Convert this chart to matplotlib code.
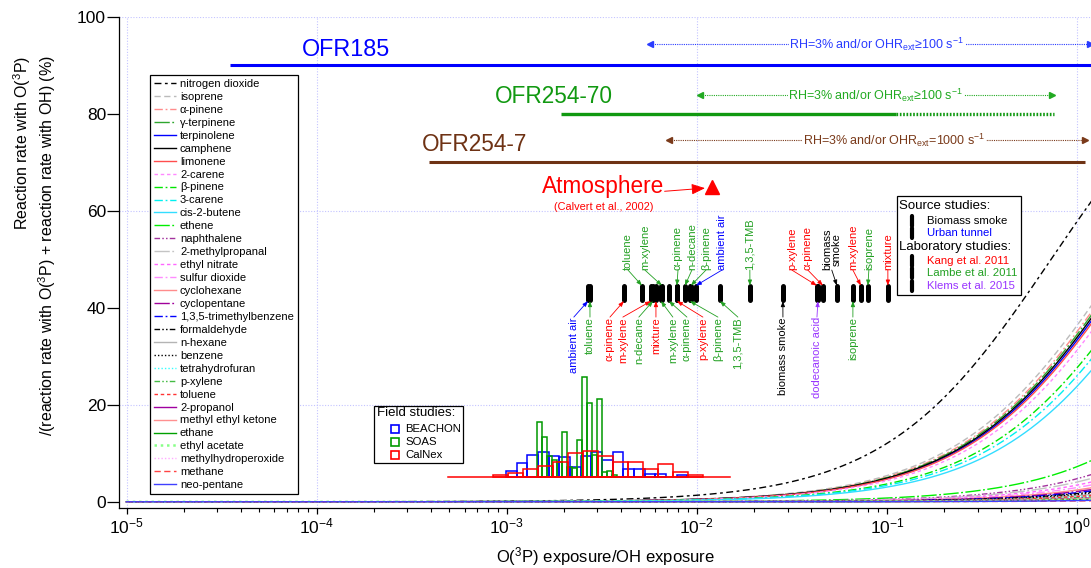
import numpy as np
import matplotlib
matplotlib.use('Agg')
import matplotlib.pyplot as plt
from matplotlib.lines import Line2D
from matplotlib.markers import MarkerStyle
from matplotlib.patches import Rectangle
from matplotlib.ticker import LogLocator, NullFormatter, NullLocator

W, H = 1091, 568

plt.rcParams['font.family'] = ['Liberation Sans', 'DejaVu Sans']
plt.rcParams['mathtext.fontset'] = 'custom'
plt.rcParams['mathtext.rm'] = 'Liberation Sans'
plt.rcParams['mathtext.it'] = 'Liberation Sans:italic'
plt.rcParams['mathtext.bf'] = 'Liberation Sans:bold'

# ---------------- data ----------------
species = ['nitrogen dioxide', 'isoprene', 'α-pinene', 'γ-terpinene', 'terpinolene',
           'camphene', 'limonene', '2-carene', 'β-pinene', '3-carene', 'cis-2-butene',
           'ethene', 'naphthalene', '2-methylpropanal', 'ethyl nitrate', 'sulfur dioxide',
           'cyclohexane', 'cyclopentane', '1,3,5-trimethylbenzene', 'formaldehyde',
           'n-hexane', 'benzene', 'tetrahydrofuran', 'p-xylene', 'toluene', '2-propanol',
           'methyl ethyl ketone', 'ethane', 'ethyl acetate', 'methylhydroperoxide',
           'methane', 'neo-pentane']
k_ratio = [0.73, 1.75, 1.85, 1.9, 2.0, 1.95, 2.05, 2.2, 2.62, 2.85, 3.2,
           12.8, 20, 23.5, 28, 33, 40, 46, 52, 58, 78, 65, 98, 117, 90, 147,
           168, 236, 197, 295, 590, 394]

# field study histograms: log10 of first bin edge, log10 bin width, bar heights (%)
beachon_start, beachon_step = -3.004, 0.0561
beachon_h = [1.2, 2.9, 4.5, 5.0, 4.3, 4.1, 1.9, 4.3, 5.0, 3.5, 5.0, 1.5, 1.5, 0.5, 0.6, 0.0, 0.3]
soas_start, soas_step = -2.843, 0.0263
soas_h = [11.3, 8.1, 4.3, 3.4, 3.0, 9.1, 1.9, 1.7, 7.6, 20.6, 15.2, 4.4, 16.0, 1.0, 1.2, 0.3]
calnex_start, calnex_step = -3.074, 0.0789
calnex_h = [0.3, 0.7, 1.5, 2.2, 3.1, 4.8, 5.2, 4.3, 3.1, 3.1, 1.5, 2.7, 1.0, 0.3]
hist_base = 5.2
calnex_span = [4.9e-4, 1.49e-2]

# oxidation flow reactor ranges
ofr_names = ['OFR185', 'OFR254-70', 'OFR254-7']
ofr_level = [90, 80, 70]
ofr_start = [3.5e-5, 1.93e-3, 3.9e-4]
ofr_end = [1.5, 0.755, 1.10]
ofr254_70_solid_end = 0.111
rh_start = [5.66e-3, 1.04e-2, 7.13e-3]
rh_end = [1.17, 0.738, 1.10]
rh_text = ['RH=3% and/or OHR$_{\\mathrm{ext}}$≥100 s$^{\\mathrm{-1}}$',
           'RH=3% and/or OHR$_{\\mathrm{ext}}$≥100 s$^{\\mathrm{-1}}$',
           'RH=3% and/or OHR$_{\\mathrm{ext}}$=1000 s$^{\\mathrm{-1}}$']

atm_ratio, atm_pct = 0.0120, 65

# source / laboratory study points (all at the same height)
tag_level = 43
up_ratio = [5.143e-3, 6.553e-3, 7.859e-3, 8.661e-3, 9.311e-3, 9.892e-3, 1.903e-2,
            4.282e-2, 4.605e-2, 5.458e-2, 7.297e-2, 7.943e-2, 0.1012]
up_label = ['toluene', 'm-xylene', 'α-pinene', 'n-decane', 'β-pinene', 'ambient air',
            '1,3,5-TMB', 'p-xylene', 'α-pinene', 'biomass\nsmoke', 'm-xylene', 'isoprene', 'mixture']
up_study = ['Lambe', 'Lambe', 'Lambe', 'Lambe', 'Lambe', 'Urban', 'Lambe',
            'Kang', 'Kang', 'Biomass', 'Kang', 'Lambe', 'Kang']
down_ratio = [2.674e-3, 2.740e-3, 4.135e-3, 5.738e-3, 5.878e-3, 6.094e-3, 6.474e-3,
              7.132e-3, 7.859e-3, 9.200e-3, 1.323e-2, 2.836e-2, 4.335e-2, 6.625e-2]
down_label = ['ambient air', 'toluene', 'α-pinene', 'm-xylene', 'n-decane', 'mixture', 'm-xylene',
              'α-pinene', 'p-xylene', 'β-pinene', '1,3,5-TMB', 'biomass smoke', 'dodecanoic acid', 'isoprene']
down_study = ['Urban', 'Lambe', 'Kang', 'Kang', 'Lambe', 'Kang', 'Lambe',
              'Lambe', 'Kang', 'Lambe', 'Lambe', 'Biomass', 'Klems', 'Lambe']

# ---------------- styles and layout ----------------
DASH = (0, (4.5, 2.5))
SDASH = (0, (2.5, 2))
DASHDOT = (0, (6, 2, 1.3, 2))
LDASHDOT = (0, (11, 1.8, 1.3, 1.8))
DASHDOTDOT = (0, (4, 1.6, 1.1, 1.6, 1.1, 1.6))
DOT = (0, (1, 1.5))
sp_colors = ['black', '#bbbbbb', '#ff8c8c', '#2ea62e', '#0000ff', 'black', '#ff4d4d', '#ff88ff',
             '#00e600', '#00f0f0', '#33ddff', '#00ee00', '#a3339e', '#c4c4c4', '#ff66ff', '#ff8cff',
             '#ff8c8c', '#a0009a', '#0000ff', 'black', '#b4b4b4', 'black', '#33ffff', '#44bb44',
             '#ff3333', '#a000a0', '#ff9090', '#00a000', '#88ff88', '#ffaaff', '#ff4444', '#4040ff']
sp_styles = [(0, (5, 2.5, 2, 2.5)), DASH, DASHDOT, LDASHDOT, '-', '-', '-', SDASH,
             DASHDOT, DASHDOT, '-', LDASHDOT, DASHDOTDOT, LDASHDOT, SDASH, DASHDOT,
             '-', LDASHDOT, DASHDOT, DASHDOTDOT, '-', DOT, DOT, DASHDOTDOT,
             SDASH, '-', '-', '-', DOT, DOT, DASH, '-']
study_color = {'Biomass': 'black', 'Urban': '#0000ff', 'Kang': '#ff0000',
               'Lambe': '#22a022', 'Klems': '#9933ff'}
ofr_color = ['#0000ff', '#119911', '#6e3214']
rh_color = ['#2a3cff', '#22aa22', '#7a3a1a']

# text positions (log10 of x)
up_text_x = [-2.362, -2.273, -2.099, -2.026, -1.952, -1.868, -1.721,
             -1.500, -1.416, -1.290, -1.179, -1.095, -0.995]
down_text_x = [-2.647, -2.562, -2.457, -2.389, -2.305, -2.215, -2.126,
               -2.052, -1.968, -1.889, -1.784, -1.547, -1.368, -1.179]


def fx(px):
    return px / W


def fy(py):
    return 1 - py / H


def draw_hist(ax, start, step, heights, color):
    edges = 10 ** (start + step * np.arange(len(heights) + 1))
    h = np.array(heights)
    keep = h > 0
    ax.bar(edges[:-1][keep], h[keep], width=np.diff(edges)[keep], bottom=hist_base,
           align='edge', fill=False, edgecolor=color, linewidth=1.1, zorder=3)


def draw_tags(ax, ratios, labels, studies, text_x, up):
    for r, lbl, st, tx in zip(ratios, labels, studies, text_x):
        col = study_color[st]
        if up:
            ty, yy, va, rel = 47.8, 44.6, 'bottom', (0.5, 0)
        else:
            ty, yy, va, rel = 38.1, 41.4, 'top', (0.5, 1)
        ax.annotate(lbl, xy=(r, yy), xytext=(10 ** tx, ty), rotation=90, ha='center', va=va,
                    color=col, fontsize=8, linespacing=1.0, zorder=6,
                    arrowprops=dict(arrowstyle='-|>,head_length=0.4,head_width=0.15', color=col,
                                    lw=0.6, shrinkA=0, shrinkB=0, relpos=rel, patchA=None))


def main():
    fig = plt.figure(figsize=(W / 100, H / 100), dpi=100)
    ax = fig.add_axes([fx(119.3), fy(508.3), (W - 119.3) / W, (508.3 - 17) / H])
    ax.set_xscale('log')
    ax.set_xlim(10 ** -5.038, 10 ** 0.0736)
    ax.set_ylim(-1.34, 100)
    for s in ('top', 'right'):
        ax.spines[s].set_visible(False)
    for s in ('left', 'bottom'):
        ax.spines[s].set_linewidth(0.9)

    for gx in (1e-5, 1e-4, 1e-2, 1):
        ax.axvline(gx, color='#c4c4ff', lw=0.8, ls=(0, (1, 1.5)), zorder=0)
    for gy in (20, 60, 100):
        ax.axhline(gy, color='#c4c4ff', lw=0.8, ls=(0, (1, 1.5)), zorder=0)

    # fraction of reactions with O(3P): x / (x + k_OH/k_O3P)
    x = np.logspace(-5, 0.08, 600)
    for name, c, col, ls in zip(species, k_ratio, sp_colors, sp_styles):
        lw = 1.8 if name == 'ethyl acetate' else 1.0
        ax.plot(x, 100 * x / (x + c), color=col, ls=ls, lw=lw, label=name, zorder=2)

    # OFR ranges
    for i, name in enumerate(ofr_names):
        lvl = ofr_level[i]
        if name == 'OFR254-70':
            ax.plot([ofr_start[i], ofr254_70_solid_end], [lvl, lvl], color=ofr_color[i], lw=2.4,
                    solid_capstyle='butt')
            ax.plot([ofr254_70_solid_end, ofr_end[i]], [lvl, lvl], color=ofr_color[i], lw=2.4,
                    ls=(0, (0.5, 0.5)))
        else:
            ax.plot([ofr_start[i], ofr_end[i]], [lvl, lvl], color=ofr_color[i], lw=2.2,
                    solid_capstyle='butt')
    ax.text(10 ** -4.077, 93.2, 'OFR185', color=ofr_color[0], fontsize=16.8, ha='left', va='center')
    ax.text(10 ** -3.062, 83.6, 'OFR254-70', color=ofr_color[1], fontsize=16.3, ha='left', va='center')
    ax.text(10 ** -3.446, 73.6, 'OFR254-7', color=ofr_color[2], fontsize=16.3, ha='left', va='center')

    rh_y = [94.4, 83.9, 74.6]
    rh_tx = [0.0884, 0.0874, 0.1088]
    for i in range(3):
        col = rh_color[i]
        ax.plot([rh_start[i], rh_end[i]], [rh_y[i]] * 2, color=col, lw=0.8, ls=(0, (1, 1)))
        ax.plot([rh_start[i]], [rh_y[i]], marker='<', ms=4.5, color=col, ls='none')
        ax.plot([rh_end[i]], [rh_y[i]], marker='>', ms=4.5, color=col, ls='none', clip_on=False)
        ax.text(rh_tx[i], rh_y[i], rh_text[i], color=col, fontsize=9, ha='center', va='center',
                bbox=dict(facecolor='white', edgecolor='none', pad=0.5))

    # atmosphere
    ax.plot([atm_ratio], [atm_pct], marker='^', ms=10, color='#ff0000', ls='none', zorder=5)
    ax.annotate('Atmosphere', xy=(0.01104, 64.7), xytext=(10 ** -2.491, 65.0), color='#ff0000',
                fontsize=16.3, ha='center', va='center',
                arrowprops=dict(arrowstyle='-|>,head_length=0.5,head_width=0.2', color='#ff0000',
                                lw=0.7, shrinkA=0, shrinkB=0, relpos=(1, 0.3), patchA=None))
    ax.text(10 ** -2.491, 60.9, '(Calvert et al., 2002)', color='#ff0000', fontsize=7.9,
            ha='center', va='center')

    # histograms
    draw_hist(ax, beachon_start, beachon_step, beachon_h, '#0000ff')
    draw_hist(ax, soas_start, soas_step, soas_h, '#009900')
    draw_hist(ax, calnex_start, calnex_step, calnex_h, '#ff0000')
    ax.plot(calnex_span, [hist_base] * 2, color='#ff0000', lw=1.1, zorder=3)

    # study points
    bar = MarkerStyle('|', capstyle='round')
    pts = up_ratio + down_ratio
    ax.plot(pts, [tag_level] * len(pts), ls='none', marker=bar, ms=10, mew=3.6, color='black', zorder=5)
    draw_tags(ax, up_ratio, up_label, up_study, up_text_x, True)
    draw_tags(ax, down_ratio, down_label, down_study, down_text_x, False)

    # axes, ticks, labels
    ax.xaxis.set_major_locator(LogLocator(base=10, numticks=12))
    ax.xaxis.set_minor_locator(LogLocator(base=10, subs=np.arange(2, 10), numticks=12))
    ax.xaxis.set_minor_formatter(NullFormatter())
    ax.set_yticks([0, 20, 40, 60, 80, 100])
    ax.yaxis.set_minor_locator(NullLocator())
    ax.tick_params(axis='x', which='major', length=4, width=0.9, pad=2, labelsize=12.5)
    ax.tick_params(axis='x', which='minor', length=2.8, width=0.8)
    ax.tick_params(axis='y', which='major', length=8.5, width=0.9, pad=1, labelsize=12.5)
    ax.set_xlabel('O($^{\\mathrm{3}}$P) exposure/OH exposure', fontsize=12, labelpad=6)
    fig.text(fx(35), fy(246), 'Reaction rate with O($^{\\mathrm{3}}$P)\n'
             '/(reaction rate with O($^{\\mathrm{3}}$P) + reaction rate with OH) (%)',
             rotation=90, ha='center', va='center', multialignment='right', fontsize=11.5)

    leg = ax.legend(loc='upper left', bbox_to_anchor=(fx(150), fy(75)), bbox_transform=fig.transFigure,
                    fontsize=8, fancybox=False, edgecolor='black', framealpha=1, borderpad=0.35,
                    labelspacing=0.265, handlelength=2.0, handletextpad=0.35, borderaxespad=0)
    leg.get_frame().set_linewidth(0.9)
    leg.set_zorder(10)

    # source / laboratory legend box
    fig.add_artist(Rectangle((fx(897), fy(295)), (1021 - 897) / W, (295 - 196) / H,
                             transform=fig.transFigure, facecolor='white', edgecolor='black',
                             lw=0.9, zorder=6))
    fig.text(fx(899), fy(206), 'Source studies:', fontsize=9.5, va='center', zorder=7)
    fig.text(fx(899), fy(246.7), 'Laboratory studies:', fontsize=9.5, va='center', zorder=7)
    src_rows = [('Biomass smoke', 'Biomass', 220.7), ('Urban tunnel', 'Urban', 232.7),
                ('Kang et al. 2011', 'Kang', 260.7), ('Lambe et al. 2011', 'Lambe', 272.7),
                ('Klems et al. 2015', 'Klems', 286)]
    for txt, st, py in src_rows:
        fig.add_artist(Line2D([fx(912)], [fy(py)], marker=bar, ms=7, mew=3, color='black',
                              transform=fig.transFigure, zorder=7))
        fig.text(fx(926.7), fy(py), txt, color=study_color[st], fontsize=8.2, va='center', zorder=7)

    # field studies legend box
    fig.add_artist(Rectangle((fx(374), fy(463)), (463 - 374) / W, (463 - 406) / H,
                             transform=fig.transFigure, facecolor='white', edgecolor='black',
                             lw=0.9, zorder=6))
    fig.text(fx(377), fy(413.3), 'Field studies:', fontsize=9.5, va='center', zorder=7)
    for txt, col, py in [('BEACHON', '#0000ff', 429), ('SOAS', '#009900', 441.7), ('CalNex', '#ff0000', 454.7)]:
        fig.add_artist(Line2D([fx(395)], [fy(py)], marker='s', ms=6, mew=1.2, mfc='none', mec=col,
                              transform=fig.transFigure, zorder=7))
        fig.text(fx(405), fy(py), txt, fontsize=8.2, va='center', zorder=7)

    fig.savefig('out.png', dpi=100)


if __name__ == '__main__':
    main()
